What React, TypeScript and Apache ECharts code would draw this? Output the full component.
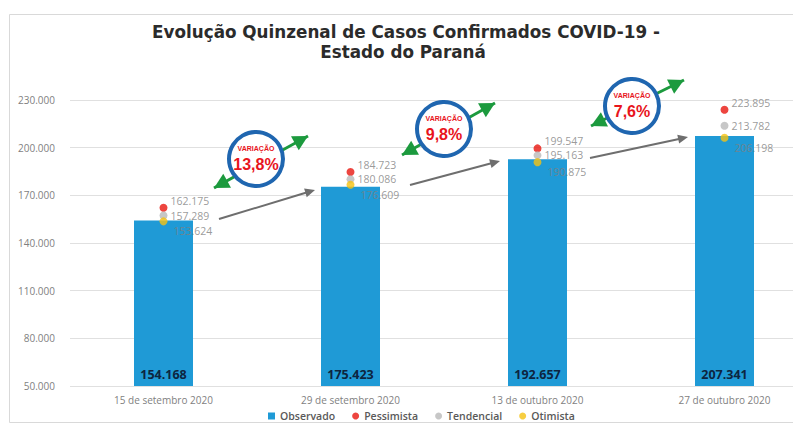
import React, { useEffect, useRef } from "react";
import * as echarts from "echarts";

const categories = [
  "15 de setembro 2020",
  "29 de setembro 2020",
  "13 de outubro 2020",
  "27 de outubro 2020",
];
const observado = [154168, 175423, 192657, 207341];
const pessimista = [162175, 184723, 199547, 223895];
const tendencial = [157289, 180086, 195163, 213782];
const otimista = [153624, 176609, 190875, 206198];
const yTicks = { min: 50000, max: 230000, interval: 30000 };

const fmt = (v: number) => {
  const s = Math.round(v).toString();
  return s.replace(/\B(?=(\d{3})+(?!\d))/g, ".");
};

const variations = observado.slice(1).map((v, i) => {
  const p = ((v / observado[i] - 1) * 100).toFixed(1).replace(".", ",");
  return p + "%";
});

// annotation geometry (pixel positions of decorations)
const circles = [
  { cx: 256, cy: 159, t1: [214, 188], t2: [308, 136] },
  { cx: 444, cy: 129, t1: [402, 155], t2: [495, 103] },
  { cx: 632, cy: 106, t1: [591, 126], t2: [684, 80] },
];
const grayArrows = [
  { s: [219, 219], e: [315, 190] },
  { s: [410, 185], e: [500, 161] },
  { s: [590, 158], e: [688, 137] },
];

function triangle(tip: number[], from: number[], L: number, W: number) {
  const dx = tip[0] - from[0];
  const dy = tip[1] - from[1];
  const len = Math.hypot(dx, dy);
  const ux = dx / len, uy = dy / len;
  const bx = tip[0] - ux * L, by = tip[1] - uy * L;
  const nx = -uy, ny = ux;
  return [
    [tip[0], tip[1]],
    [bx + nx * W / 2, by + ny * W / 2],
    [bx - nx * W / 2, by - ny * W / 2],
  ];
}

export default function App() {
  const ref = useRef<HTMLDivElement>(null);
  useEffect(() => {
    if (!ref.current) return;
    const chart = echarts.init(ref.current, undefined, { renderer: "svg" });
    const green = "#1c9a3e";
    const blue = "#1f66b0";
    const red = "#e8141c";
    const gray = "#6e6e6e";

    const graphics: any[] = [
      {
        type: "rect",
        shape: { x: 9.5, y: 14.5, width: 800, height: 408 },
        style: { fill: "none", stroke: "#d9d9d9", lineWidth: 1 },
        z: 0,
      },
      {
        type: "text",
        x: 406,
        y: 32,
        style: {
          text: "Evolução Quinzenal de Casos Confirmados COVID-19 -",
          fill: "#2b2b2b",
          font: "bold 16.8px 'DejaVu Sans'",
          textAlign: "center",
          textVerticalAlign: "middle",
        },
      },
      {
        type: "text",
        x: 403,
        y: 52,
        style: {
          text: "Estado do Paraná",
          fill: "#2b2b2b",
          font: "bold 16.8px 'DejaVu Sans'",
          textAlign: "center",
          textVerticalAlign: "middle",
        },
      },
    ];

    grayArrows.forEach((a) => {
      const dx = a.e[0] - a.s[0], dy = a.e[1] - a.s[1];
      const len = Math.hypot(dx, dy);
      const ex = a.e[0] - (dx / len) * 8, ey = a.e[1] - (dy / len) * 8;
      graphics.push({
        type: "line",
        shape: { x1: a.s[0], y1: a.s[1], x2: ex, y2: ey },
        style: { stroke: gray, lineWidth: 2 },
        z: 50,
      });
      graphics.push({
        type: "polygon",
        shape: { points: triangle(a.e, a.s, 10, 9) },
        style: { fill: gray },
        z: 50,
      });
    });

    circles.forEach((c, i) => {
      graphics.push({
        type: "line",
        shape: { x1: c.t1[0], y1: c.t1[1], x2: c.t2[0], y2: c.t2[1] },
        style: { stroke: green, lineWidth: 3 },
        z: 50,
      });
      graphics.push({
        type: "polygon",
        shape: { points: triangle(c.t2, c.t1, 15, 16) },
        style: { fill: green },
        z: 50,
      });
      graphics.push({
        type: "polygon",
        shape: { points: triangle(c.t1, c.t2, 15, 16) },
        style: { fill: green },
        z: 50,
      });
      graphics.push({
        type: "circle",
        shape: { cx: c.cx, cy: c.cy, r: 27 },
        style: { fill: "#ffffff", stroke: blue, lineWidth: 4 },
        z: 51,
      });
      graphics.push({
        type: "text",
        x: c.cx,
        y: c.cy - 11,
        style: {
          text: "VARIAÇÃO",
          fill: red,
          font: "bold 7px 'Liberation Sans'",
          textAlign: "center",
          textVerticalAlign: "middle",
        },
        z: 52,
      });
      graphics.push({
        type: "text",
        x: c.cx,
        y: c.cy + 5,
        style: {
          text: variations[i],
          fill: red,
          font: "bold 16px 'Liberation Sans'",
          textAlign: "center",
          textVerticalAlign: "middle",
        },
        z: 52,
      });
    });

    const scatterLabel = (offset: number[]) => ({
      show: true,
      position: "right",
      distance: 3,
      offset,
      formatter: (p: any) => fmt(p.value),
      color: "#7f7f7f",
      fontSize: 10.5,
      fontFamily: "Open Sans",
    });

    chart.setOption({
      animation: false,
      backgroundColor: "#ffffff",
      graphic: graphics,
      grid: {
        left: 70,
        top: 100,
        width: 748,
        height: 286,
        containLabel: false,
        outerBoundsMode: "none",
      },
      legend: {
        left: 263,
        top: 406,
        itemWidth: 7,
        itemHeight: 7,
        itemGap: 17,
        padding: [4, 5, 4, 5],
        textStyle: {
          color: "#595959",
          fontSize: 10.5,
          lineHeight: 12,
          fontWeight: 600,
          fontFamily: "Open Sans",
        },
        data: [
          { name: "Observado", icon: "rect" },
          { name: "Pessimista", icon: "circle" },
          { name: "Tendencial", icon: "circle" },
          { name: "Otimista", icon: "circle" },
        ],
      },
      xAxis: {
        type: "category",
        data: categories,
        axisLine: { show: false },
        axisTick: { show: false },
        axisLabel: {
          color: "#7f7f7f",
          fontSize: 10,
          fontFamily: "Open Sans",
          margin: 9,
        },
      },
      yAxis: {
        type: "value",
        min: yTicks.min,
        max: yTicks.max,
        interval: yTicks.interval,
        axisLine: { show: false },
        axisTick: { show: false },
        splitLine: { lineStyle: { color: "#e0e0e0", width: 1 } },
        axisLabel: {
          color: "#7f7f7f",
          fontSize: 10,
          fontFamily: "Open Sans",
          margin: 15,
          formatter: (v: number) => fmt(v),
        },
      },
      series: [
        {
          name: "Observado",
          type: "bar",
          data: observado,
          barWidth: 59,
          itemStyle: { color: "#1f9ad6" },
          label: {
            show: true,
            position: "insideBottom",
            distance: 5,
            formatter: (p: any) => fmt(p.value),
            color: "#0d2540",
            fontWeight: "bold",
            fontSize: 12.5,
            fontFamily: "Open Sans",
          },
          z: 2,
        },
        {
          name: "Pessimista",
          type: "scatter",
          data: pessimista,
          symbolSize: 8,
          itemStyle: { color: "#e8170f" },
          label: scatterLabel([0, -7]),
          z: 5,
        },
        {
          name: "Tendencial",
          type: "scatter",
          data: tendencial,
          symbolSize: 8,
          itemStyle: { color: "#b9b9b9" },
          label: scatterLabel([0, 0]),
          z: 5,
        },
        {
          name: "Otimista",
          type: "scatter",
          data: otimista,
          symbolSize: 8,
          itemStyle: { color: "#f5c211" },
          label: scatterLabel([3, 10]),
          z: 5,
        },
      ],
    });
    return () => chart.dispose();
  }, []);
  return (
    <div
      ref={ref}
      style={{ position: "fixed", left: 0, top: 0, width: 793, height: 426 }}
    />
  );
}
